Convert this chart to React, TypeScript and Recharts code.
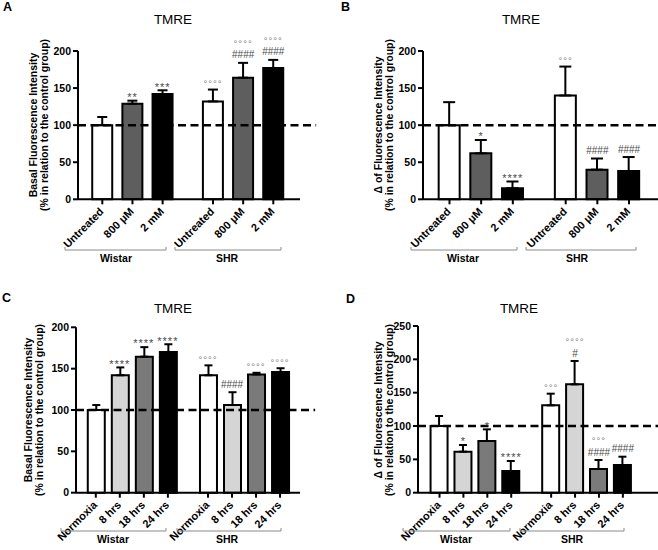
import React from "react";
import {
  ComposedChart,
  Bar,
  Cell,
  ErrorBar,
  XAxis,
  YAxis,
  ReferenceLine,
  Scatter,
} from "recharts";

const groups = ["Wistar", "SHR"];
const doseLabels = ["Untreated", "800 μM", "2 mM"];
const hypoxiaLabels = ["Normoxia", "8 hrs", "18 hrs", "24 hrs"];

// A: basal intensity, dose
const basalDose = [100, 129, 142, 132, 164, 177];
const basalDoseErr = [11, 4, 5, 16, 20, 11];
const basalDoseSig = [[], ["**"], ["***"], ["°°°°"], ["####", "°°°°"], ["####", "°°°°"]];

// B: delta intensity, dose
const deltaDose = [100, 62, 15, 140, 40, 38];
const deltaDoseErr = [31, 18, 9, 39, 15, 19];
const deltaDoseSig = [[], ["*"], ["****"], ["°°°"], ["####"], ["####"]];

// C: basal intensity, hypoxia time
const basalHypoxia = [100, 142, 164.5, 170, 142, 106, 143, 146];
const basalHypoxiaErr = [6, 9.5, 11.5, 9.5, 12, 15.5, 2, 4.5];
const basalHypoxiaSig = [[], ["****"], ["****"], ["****"], ["°°°°"], ["####"], ["°°°°"], ["°°°°"]];

// D: delta intensity, hypoxia time
const deltaHypoxia = [100, 61.5, 77.5, 32.5, 131, 162.5, 35.5, 41.5];
const deltaHypoxiaErr = [15, 10, 17.5, 15, 17.5, 35, 13.5, 12.5];
const deltaHypoxiaSig = [[], ["*"], ["*"], ["****"], ["°°°"], ["#", "°°°°"], ["####", "°°°"], ["####"]];

const yTicks200 = [0, 50, 100, 150, 200];
const yTicks250 = [0, 50, 100, 150, 200, 250];

const doseFills = ["#ffffff", "#5e5e5e", "#000000"];
const hypoxiaFills = ["#ffffff", "#d5d5d5", "#7a7a7a", "#000000"];

const FONT = '"Liberation Sans", Arial, sans-serif';
const W = 329;
const H = 275;
const GROUP_GAP = 0.67;
const axisStyle = { stroke: "#000", strokeWidth: 2 };

type Row = {
  x: number;
  label: string;
  fill: string;
  value: number;
  err: number[];
  top: number;
  sig: string[];
};

// significance marks stacked above the error bar cap
function SigShape(props: any) {
  const { cx, cy, payload } = props;
  if (cx == null || cy == null || !payload) return null;
  let center = cy;
  return (
    <g>
      {payload.sig.map((s: string, k: number) => {
        const isHash = s[0] === "#";
        const isStar = s[0] === "*";
        const isRing = s[0] === "°";
        center -= k === 0 ? (isStar ? 6 : 8) : 13;
        const fs = isStar ? 11 : isRing ? 9.5 : 10;
        const baseline = center + (isHash ? 0.36 : 0.57) * fs;
        return (
          <text
            key={k}
            x={cx}
            y={baseline}
            textAnchor="middle"
            fontSize={fs}
            fontFamily={FONT}
            letterSpacing={isHash ? 0 : 1}
            fill={isRing ? "#7a7a7a" : "#4a4a4a"}
          >
            {s}
          </text>
        );
      })}
    </g>
  );
}

function makeTick(rows: Row[]) {
  return (props: any) => {
    const { x, y, payload } = props;
    const row = rows.reduce((best, r) =>
      Math.abs(r.x - payload.value) < Math.abs(best.x - payload.value) ? r : best
    );
    return (
      <text
        x={x + 2}
        y={y + 6}
        transform={`rotate(-45 ${x + 2} ${y + 6})`}
        textAnchor="end"
        fontSize={11}
        fontWeight={700}
        fontFamily={FONT}
        fill="#000"
      >
        {row.label}
      </text>
    );
  };
}

type PanelProps = {
  left: number;
  top: number;
  yAxisWidth: number;
  marginTop: number;
  plotBottom: number;
  marginRight: number;
  xDomain: [number, number];
  dashEnd?: number;
  yMax: number;
  yTicks: number[];
  labels: string[];
  values: number[];
  errors: number[];
  sig: string[][];
  fills: string[];
  barSize: number;
  capWidth: number;
};

function Panel(p: PanelProps) {
  const rows: Row[] = groups.flatMap((g, gi) =>
    p.labels.map((label, li) => {
      const i = gi * p.labels.length + li;
      return {
        x: i + gi * GROUP_GAP,
        label,
        fill: p.fills[li],
        value: p.values[i],
        err: [0, p.errors[i]],
        top: p.values[i] + p.errors[i],
        sig: p.sig[i],
      };
    })
  );
  const ticks = rows.map((r) => r.x);

  return (
    <div style={{ position: "absolute", left: p.left, top: p.top }}>
      <ComposedChart
        width={W}
        height={H}
        data={rows}
        margin={{ top: p.marginTop, right: p.marginRight, bottom: 0, left: 0 }}
      >
        <XAxis
          dataKey="x"
          type="number"
          domain={p.xDomain}
          ticks={ticks}
          interval={0}
          height={H - p.plotBottom}
          tick={makeTick(rows)}
          tickSize={5}
          tickLine={axisStyle}
          axisLine={axisStyle}
        />
        <YAxis
          type="number"
          domain={[0, p.yMax]}
          ticks={p.yTicks}
          interval={0}
          width={p.yAxisWidth}
          tickSize={5}
          tickMargin={2}
          tick={{ fill: "#000", fontSize: 10.5, fontWeight: 700, fontFamily: FONT }}
          tickLine={axisStyle}
          axisLine={axisStyle}
        />
        <Bar
          dataKey="value"
          barSize={p.barSize}
          stroke="#000"
          strokeWidth={2}
          isAnimationActive={false}
        >
          {rows.map((r, i) => (
            <Cell key={i} fill={r.fill} />
          ))}
          <ErrorBar dataKey="err" width={p.capWidth} stroke="#000" strokeWidth={2} direction="y" />
        </Bar>
        {p.dashEnd !== undefined ? (
          <ReferenceLine
            segment={[
              { x: p.xDomain[0], y: 100 },
              { x: p.dashEnd, y: 100 },
            ]}
            ifOverflow="visible"
            stroke="#000"
            strokeWidth={2.5}
            strokeDasharray="8 4.5"
          />
        ) : (
          <ReferenceLine y={100} stroke="#000" strokeWidth={2.5} strokeDasharray="8 4.5" />
        )}
        <Scatter dataKey="top" shape={SigShape} isAnimationActive={false} />
      </ComposedChart>
    </div>
  );
}

function YLabel({ x, y, line1 }: { x: number; y: number; line1: string }) {
  const lines = [line1, "(% in relation to the control group)"];
  return (
    <g>
      {lines.map((t, k) => (
        <text
          key={k}
          x={x + k * 11}
          y={y}
          transform={`rotate(-90 ${x + k * 11} ${y})`}
          textAnchor="middle"
          fontSize={10.5}
          fontWeight={700}
          fontFamily={FONT}
          fill="#000"
        >
          {t}
        </text>
      ))}
    </g>
  );
}

function Bracket({ x1, x2, y, label, lx }: { x1: number; x2: number; y: number; label: string; lx: number }) {
  return (
    <g>
      <path d={`M${x1} ${y - 3} L${x1} ${y} L${x2} ${y} L${x2} ${y - 3}`} fill="none" stroke="#8a8a8a" strokeWidth={1} />
      <text x={lx} y={y + 12} textAnchor="middle" fontSize={10.5} fontWeight={700} fontFamily={FONT} fill="#000">
        {label}
      </text>
    </g>
  );
}

export default function App() {
  const letter = (t: string, x: number, y: number) => (
    <text x={x} y={y} fontSize={12.5} fontWeight={700} fontFamily={FONT} fill="#000">
      {t}
    </text>
  );
  const title = (x: number, y: number) => (
    <text x={x} y={y} textAnchor="middle" fontSize={13.5} fontFamily={FONT} fill="#000">
      TMRE
    </text>
  );

  return (
    <div style={{ position: "relative", width: 658, height: 550, background: "#fff", fontFamily: FONT }}>
      <style>{`body{margin:0}`}</style>
      <Panel
        left={0}
        top={0}
        yAxisWidth={78}
        marginTop={51}
        plotBottom={199.3}
        marginRight={29}
        xDomain={[-0.806, 6.555]}
        dashEnd={7.09}
        yMax={200}
        yTicks={yTicks200}
        labels={doseLabels}
        values={basalDose}
        errors={basalDoseErr}
        sig={basalDoseSig}
        fills={doseFills}
        barSize={20}
        capWidth={5}
      />
      <Panel
        left={329}
        top={0}
        yAxisWidth={94}
        marginTop={51}
        plotBottom={199.3}
        marginRight={0}
        xDomain={[-0.837, 6.586]}
        yMax={200}
        yTicks={yTicks200}
        labels={doseLabels}
        values={deltaDose}
        errors={deltaDoseErr}
        sig={deltaDoseSig}
        fills={doseFills}
        barSize={21}
        capWidth={6}
      />
      <Panel
        left={0}
        top={275}
        yAxisWidth={76}
        marginTop={52.3}
        plotBottom={217.7}
        marginRight={29}
        xDomain={[-0.824, 8.5]}
        dashEnd={9.13}
        yMax={200}
        yTicks={yTicks200}
        labels={hypoxiaLabels}
        values={basalHypoxia}
        errors={basalHypoxiaErr}
        sig={basalHypoxiaSig}
        fills={hypoxiaFills}
        barSize={17}
        capWidth={4}
      />
      <Panel
        left={329}
        top={275}
        yAxisWidth={89}
        marginTop={51}
        plotBottom={217.7}
        marginRight={0}
        xDomain={[-0.9, 9.14]}
        yMax={250}
        yTicks={yTicks250}
        labels={hypoxiaLabels}
        values={deltaHypoxia}
        errors={deltaHypoxiaErr}
        sig={deltaHypoxiaSig}
        fills={hypoxiaFills}
        barSize={17}
        capWidth={4}
      />
      <svg
        width={658}
        height={550}
        style={{ position: "absolute", left: 0, top: 0, pointerEvents: "none" }}
      >
        {letter("A", 3, 11)}
        {letter("B", 341, 11)}
        {letter("C", 2, 302)}
        {letter("D", 346, 303)}
        {title(173, 24)}
        {title(521, 24)}
        {title(173, 313)}
        {title(519, 313)}
        <YLabel x={37} y={125} line1="Basal Fluorescence Intensity" />
        <YLabel x={382} y={125} line1="Δ of Fluorescence Intensity" />
        <YLabel x={32} y={410} line1="Basal Fluorescence Intensity" />
        <YLabel x={382} y={410} line1="Δ of Fluorescence Intensity" />
        <Bracket x1={65} x2={166} y={250} label="Wistar" lx={116} />
        <Bracket x1={175} x2={281} y={250} label="SHR" lx={227} />
        <Bracket x1={411} x2={517} y={250} label="Wistar" lx={463} />
        <Bracket x1={526} x2={636} y={250} label="SHR" lx={577} />
        <Bracket x1={61} x2={166} y={531} label="Wistar" lx={113} />
        <Bracket x1={177} x2={281} y={531} label="SHR" lx={227} />
        <Bracket x1={403} x2={510} y={531} label="Wistar" lx={456} />
        <Bracket x1={520} x2={624} y={531} label="SHR" lx={572} />
      </svg>
    </div>
  );
}
